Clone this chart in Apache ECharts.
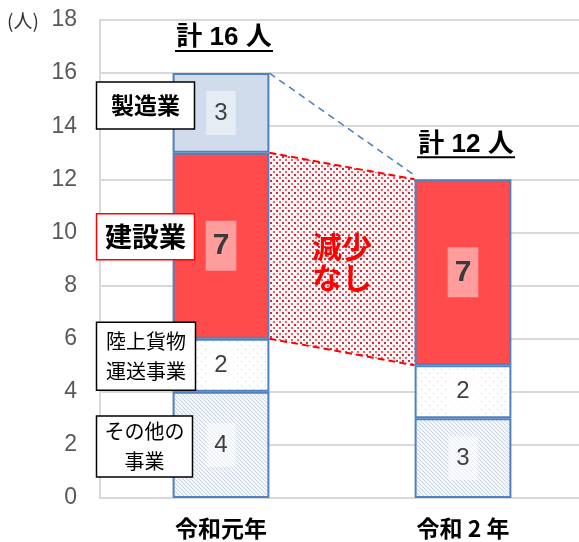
<!DOCTYPE html>
<html>
<head>
<meta charset="utf-8">
<script src="https://cdn.jsdelivr.net/npm/echarts@6/dist/echarts.min.js"></script>
<style>
html,body{margin:0;padding:0;background:#fff;overflow:hidden;width:579px;height:542px;}
#main{width:590px;height:542px;}
</style>
</head>
<body>
<div id="main"></div>
<script>
// ---- data ----
const categories = ['令和元年', '令和 2 年'];
const otherVals = [4, 3];            // その他の事業
const transportVals = [2, 2];        // 陸上貨物運送事業
const constructionVals = [7, 7];     // 建設業
const manufacturingVals = [3, null]; // 製造業
const sectorNames = ['その他の\n事業', '陸上貨物\n運送事業', '建設業', '製造業'];
const yMin = 0, yMax = 18, yStep = 2;
const unitText = '(人)';
const noDecreaseText = '減少\nなし';

const totals = categories.map((c, i) => otherVals[i] + transportVals[i] + constructionVals[i] + (manufacturingVals[i] || 0));
const lowerBase = otherVals.map((v, i) => v + transportVals[i]);
const upperTop = lowerBase.map((v, i) => v + constructionVals[i]);

// ---- styles ----
const FONT = '"Liberation Sans", Arial, "Noto Sans CJK JP", sans-serif';
const JFONT = '"Noto Sans CJK JP", "Liberation Sans", sans-serif';
const BORDER = '#4f81bd';

function makePattern(w, h, draw) {
  const c = document.createElement('canvas');
  c.width = w; c.height = h;
  const ctx = c.getContext('2d');
  draw(ctx);
  return { image: c, repeat: 'repeat' };
}
const transportPattern = makePattern(8, 8, ctx => {
  ctx.fillStyle = '#ffffff'; ctx.fillRect(0, 0, 8, 8);
  ctx.fillStyle = '#c9c9c9'; ctx.fillRect(1, 1, 1, 1);
  ctx.fillStyle = '#e0c8c8'; ctx.fillRect(5, 5, 1, 1);
});
const otherPattern = makePattern(4, 4, ctx => {
  ctx.fillStyle = '#f3f6fa'; ctx.fillRect(0, 0, 4, 4);
  ctx.fillStyle = '#cbd3de';
  for (let i = 0; i < 4; i++) ctx.fillRect(i, i, 1, 1);
});
const connectorPattern = makePattern(6, 6, ctx => {
  ctx.fillStyle = '#fff4f4'; ctx.fillRect(0, 0, 6, 6);
  ctx.fillStyle = '#c0303f'; ctx.fillRect(0, 0, 2, 2);
  ctx.fillStyle = '#e6606e'; ctx.fillRect(3, 3, 2, 2);
});

function barLabel(size, bold, bg, color) {
  return {
    show: true, position: 'inside',
    formatter: p => (p.value == null ? '' : String(p.value)),
    fontFamily: FONT, fontSize: size, fontWeight: bold ? 'bold' : 'normal',
    color: color || '#404040',
    backgroundColor: bg, padding: bold ? [10, 7] : [10, 8]
  };
}

const chart = echarts.init(document.getElementById('main'), null, { renderer: 'canvas' });

const annoStyles = [
  { w: 96, h: 61, dx: -76.5, dy: 1.5, font: 'normal 20px ' + JFONT, stroke: '#000', lh: 30 },
  { w: 99, h: 68, dx: -75, dy: -9, font: 'normal 20px ' + JFONT, stroke: '#000', lh: 30 },
  { w: 98, h: 46, dx: -75.5, dy: -9, font: 'bold 27px ' + JFONT, stroke: '#ff0000', lh: 30 },
  { w: 98, h: 47, dx: -75.5, dy: -7.5, font: 'bold 23px ' + JFONT, stroke: '#000', lh: 28 }
];
const seriesVals0 = [otherVals[0], transportVals[0], constructionVals[0], manufacturingVals[0]];
const annoData = sectorNames.map((n, k) => {
  let base = 0;
  for (let j = 0; j < k; j++) base += seriesVals0[j];
  return [0, base + seriesVals0[k] / 2, k];
});

const option = {
  animation: false,
  backgroundColor: '#fff',
  grid: { left: 100, right: 6, top: 20, bottom: 44, containLabel: false },
  xAxis: {
    type: 'category', data: categories,
    axisLine: { show: true, lineStyle: { color: '#d9d9d9', width: 2 } },
    axisTick: { show: false },
    axisLabel: { fontFamily: JFONT, fontSize: 23, fontWeight: 'bold', color: '#000', margin: 19 }
  },
  yAxis: {
    type: 'value', min: yMin, max: yMax, interval: yStep,
    axisLine: { show: true, lineStyle: { color: '#d9d9d9', width: 2 } },
    axisTick: { show: false },
    axisLabel: { fontFamily: FONT, fontSize: 23, color: '#595959', margin: 23 },
    splitLine: { lineStyle: { color: '#d9d9d9', width: 2 } }
  },
  graphic: [
    { type: 'text', left: 7, top: 11, style: { text: unitText, font: 'normal 19px ' + JFONT, fill: '#333' } }
  ],
  series: [
    {
      name: 'その他の事業', type: 'bar', stack: 's', barWidth: '40%', data: otherVals,
      itemStyle: { color: otherPattern, borderColor: BORDER, borderWidth: 2 },
      label: barLabel(24, false, 'rgba(255,255,255,0.55)')
    },
    {
      name: '陸上貨物運送事業', type: 'bar', stack: 's', data: transportVals,
      itemStyle: { color: transportPattern, borderColor: BORDER, borderWidth: 2 },
      label: barLabel(24, false, 'rgba(255,255,255,0.7)')
    },
    {
      name: '建設業', type: 'bar', stack: 's', data: constructionVals,
      itemStyle: { color: '#ff4b4b', borderColor: BORDER, borderWidth: 2 },
      label: barLabel(30, true, 'rgba(255,255,255,0.45)', '#3a3a3a')
    },
    {
      name: '製造業', type: 'bar', stack: 's', data: manufacturingVals,
      itemStyle: { color: '#d0dcec', borderColor: BORDER, borderWidth: 2 },
      label: barLabel(24, false, 'rgba(255,255,255,0.45)')
    },
    {
      // connector band between the 建設業 segments + blue dashed total line
      type: 'custom', z: 1, clip: false,
      encode: { x: 0, y: 1 },
      data: [[0, lowerBase[0], upperTop[0], lowerBase[1], upperTop[1], totals[0], totals[1]]],
      renderItem: (params, api) => {
        const half = api.size([1, 0])[0] * 0.2;
        const b0 = api.coord([0, api.value(1)]), t0 = api.coord([0, api.value(2)]);
        const b1 = api.coord([1, api.value(3)]), t1 = api.coord([1, api.value(4)]);
        const s0 = api.coord([0, api.value(5)]), s1 = api.coord([1, api.value(6)]);
        const xl = b0[0] + half, xr = b1[0] - half;
        const cy = (b0[1] + t0[1] + b1[1] + t1[1]) / 4;
        return {
          type: 'group', children: [
            { type: 'polygon', shape: { points: [[xl, t0[1]], [xr, t1[1]], [xr, b1[1]], [xl, b0[1]]] },
              style: { fill: connectorPattern } },
            { type: 'line', shape: { x1: xl, y1: t0[1], x2: xr, y2: t1[1] },
              style: { stroke: '#ff0000', lineWidth: 2, lineDash: [7, 4] } },
            { type: 'line', shape: { x1: xl, y1: b0[1], x2: xr, y2: b1[1] },
              style: { stroke: '#ff0000', lineWidth: 2, lineDash: [7, 4] } },
            { type: 'line', shape: { x1: xl, y1: s0[1], x2: xr, y2: s1[1] - 4 },
              style: { stroke: '#4a7ebb', lineWidth: 1.5, lineDash: [7, 5] } },
            { type: 'text', x: (xl + xr) / 2, y: cy + 3,
              style: { text: noDecreaseText, font: 'bold 30px ' + JFONT, fill: '#ff0000',
                       align: 'center', verticalAlign: 'middle', lineHeight: 31 } }
          ]
        };
      }
    },
    {
      // totals above bars
      type: 'custom', z: 5, clip: false,
      encode: { x: 0, y: 1 },
      data: totals.map((t, i) => [i, t]),
      renderItem: (params, api) => {
        const p = api.coord([api.value(0), api.value(1)]);
        const cx = p[0] + 3, cy = p[1] - 35;
        return {
          type: 'group', children: [
            { type: 'text', x: cx, y: cy,
              style: { text: '計 ' + api.value(1) + ' 人', font: 'bold 26px ' + FONT, fill: '#000',
                       align: 'center', verticalAlign: 'middle' } },
            { type: 'line', shape: { x1: cx - 49, y1: cy + 13, x2: cx + 49, y2: cy + 13 },
              style: { stroke: '#000', lineWidth: 2 } }
          ]
        };
      }
    },
    {
      // sector annotation boxes
      type: 'custom', z: 6, clip: false,
      encode: { x: 0, y: 1 },
      data: annoData,
      renderItem: (params, api) => {
        const k = api.value(2);
        const s = annoStyles[k];
        const p = api.coord([api.value(0), api.value(1)]);
        const cx = p[0] + s.dx, cy = p[1] + s.dy;
        return {
          type: 'group', children: [
            { type: 'rect', shape: { x: cx - s.w / 2, y: cy - s.h / 2, width: s.w, height: s.h },
              style: { fill: '#fff', stroke: s.stroke, lineWidth: 1.5 } },
            { type: 'text', x: cx, y: cy,
              style: { text: sectorNames[k], font: s.font, fill: '#000', align: 'center',
                       verticalAlign: 'middle', lineHeight: s.lh } }
          ]
        };
      }
    }
  ]
};
chart.setOption(option);
</script>
</body>
</html>
